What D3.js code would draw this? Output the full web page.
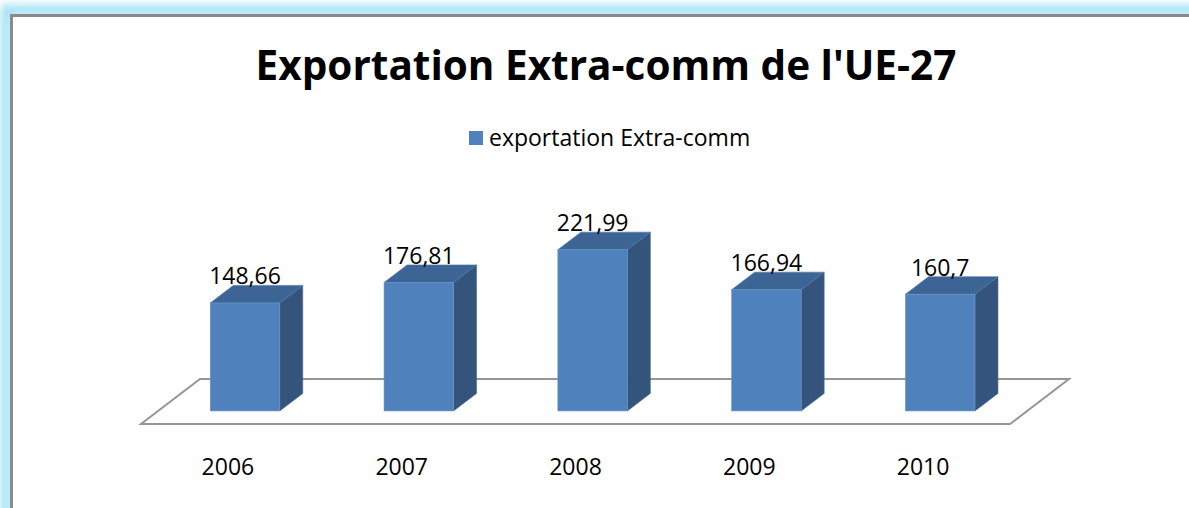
<!DOCTYPE html>
<html lang="fr">
<head>
  <meta charset="UTF-8">
  <title>Exportation Extra-comm de l'UE-27</title>
  <script src="https://d3js.org/d3.v7.min.js"></script>
  <style>
    body { margin: 0; background: #fff; }
    text { font-family: "Open Sans", "Noto Sans", sans-serif; fill: #000; }
  </style>
</head>
<body>
  <svg id="chart" width="1189" height="508"></svg>

  <script>
    // Data
    const years = ["2006", "2007", "2008", "2009", "2010"];
    const values = [148.66, 176.81, 221.99, 166.94, 160.7];
    const valueLabels = ["148,66", "176,81", "221,99", "166,94", "160,7"];
    const seriesName = "exportation Extra-comm";

    const width = 1189;
    const height = 508;

    const svg = d3.select("#chart");

    // Frame with soft blue glow
    const defs = svg.append("defs");
    defs.append("filter").attr("id", "glow")
      .attr("x", "-10%").attr("y", "-10%").attr("width", "120%").attr("height", "120%")
      .append("feGaussianBlur").attr("stdDeviation", 4);

    svg.append("rect")
      .attr("x", 6).attr("y", 10).attr("width", width + 20).attr("height", height + 20)
      .attr("fill", "none").attr("stroke", "#9fe0f4").attr("stroke-width", 10)
      .attr("filter", "url(#glow)");
    svg.append("rect")
      .attr("x", 11.5).attr("y", 15.5).attr("width", width + 20).attr("height", height + 20)
      .attr("fill", "#fff").attr("stroke", "#8a8a8a").attr("stroke-width", 3);

    // Title
    svg.append("text")
      .attr("x", 606).attr("y", 80)
      .attr("text-anchor", "middle")
      .style("font-size", "40.5px").style("font-weight", "bold")
      .text("Exportation Extra-comm de l'UE-27");

    // Legend
    const legend = svg.append("g").attr("transform", "translate(469,131)");
    legend.append("rect").attr("width", 14).attr("height", 14).attr("fill", "#4f81bd");
    legend.append("text").attr("x", 20).attr("y", 7).attr("dy", "0.35em")
      .style("font-size", "23px").text(seriesName);

    // 3D geometry
    const floorFrontY = 424;
    const depth = { dx: 59, dy: -45 };
    const x = d3.scaleBand().domain(years).range([141, 1010]).paddingInner(0).paddingOuter(0);
    const barFrac = 0.4;           // bar width as fraction of band
    const tFront = 0.29, tBack = 0.68; // bar position inside floor depth

    const baseY = floorFrontY + depth.dy * tFront;
    const y = d3.scaleLinear().domain([0, 250]).range([0, 181.6]);

    // Floor
    const x0 = x.range()[0], x1 = x.range()[1];
    svg.append("path")
      .attr("d", `M${x0},${floorFrontY} L${x1},${floorFrontY} L${x1 + depth.dx},${floorFrontY + depth.dy} L${x0 + depth.dx},${floorFrontY + depth.dy} Z`)
      .attr("fill", "none").attr("stroke", "#969696").attr("stroke-width", 2);

    const ox = depth.dx * tFront;
    const bdx = depth.dx * (tBack - tFront), bdy = depth.dy * (tBack - tFront);

    const bars = svg.selectAll("g.bar")
      .data(years.map((yr, i) => ({ yr, v: values[i], label: valueLabels[i] })))
      .enter().append("g").attr("class", "bar");

    const geo = d => {
      const cx = x(d.yr) + x.bandwidth() / 2 + ox;
      const w = x.bandwidth() * barFrac;
      const l = cx - w / 2, r = cx + w / 2;
      const top = baseY - y(d.v);
      return { cx, l, r, top, bottom: baseY };
    };

    // side
    bars.append("path")
      .attr("d", d => {
        const g = geo(d);
        return `M${g.r},${g.bottom} L${g.r},${g.top} L${g.r + bdx},${g.top + bdy} L${g.r + bdx},${g.bottom + bdy} Z`;
      })
      .attr("fill", "#34547c").attr("stroke", "#4a6f9c").attr("stroke-width", 0.6);
    // top
    bars.append("path")
      .attr("d", d => {
        const g = geo(d);
        return `M${g.l},${g.top} L${g.r},${g.top} L${g.r + bdx},${g.top + bdy} L${g.l + bdx},${g.top + bdy} Z`;
      })
      .attr("fill", "#3c6596").attr("stroke", "#4f76a6").attr("stroke-width", 0.6);
    // front
    bars.append("rect")
      .attr("x", d => geo(d).l)
      .attr("y", d => geo(d).top)
      .attr("width", d => geo(d).r - geo(d).l)
      .attr("height", d => y(d.v))
      .attr("fill", "#4f81bd").attr("stroke", "#6b95c8").attr("stroke-width", 0.6);

    // value labels
    bars.append("text")
      .attr("x", d => geo(d).cx)
      .attr("y", d => geo(d).top + bdy - 1)
      .attr("text-anchor", "middle")
      .style("font-size", "23px")
      .text(d => d.label);

    // category labels
    svg.selectAll("text.cat")
      .data(years)
      .enter().append("text")
      .attr("class", "cat")
      .attr("x", d => x(d) + x.bandwidth() / 2)
      .attr("y", 467).attr("dy", "0.35em")
      .attr("text-anchor", "middle")
      .style("font-size", "23px")
      .text(d => d);
  </script>
</body>
</html>
